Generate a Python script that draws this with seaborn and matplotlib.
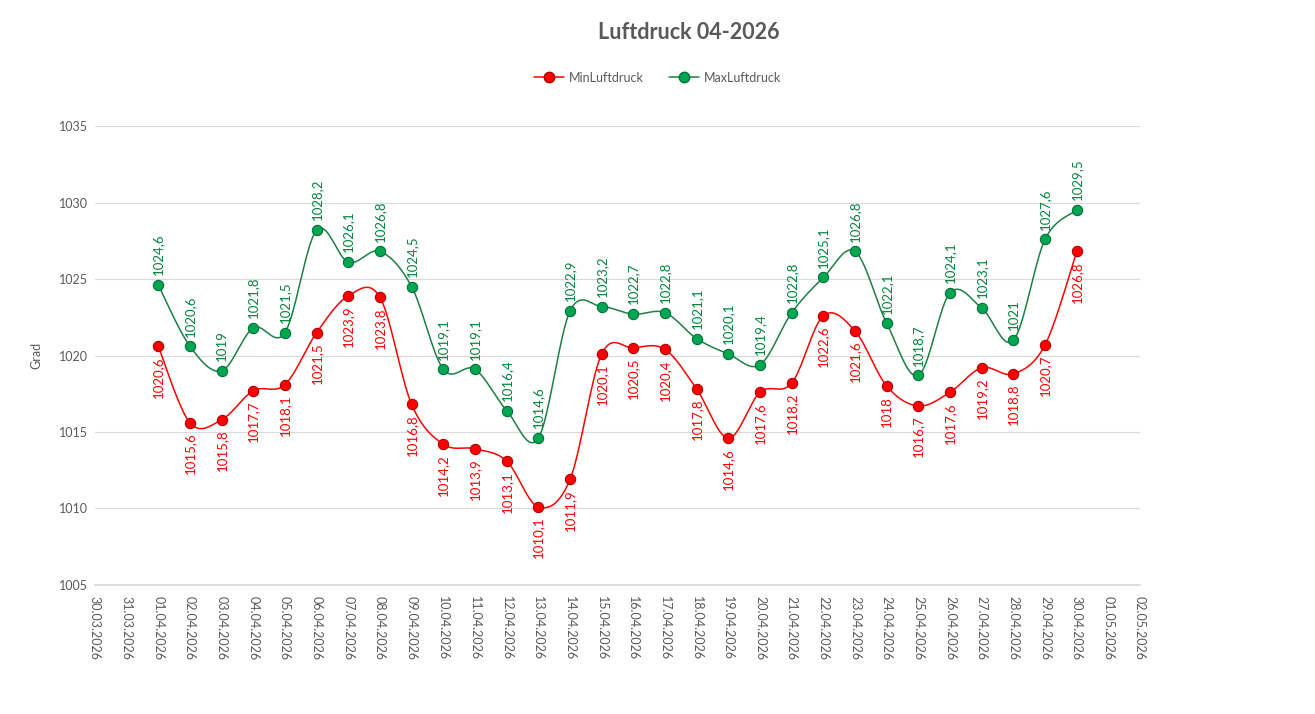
import numpy as np
import pandas as pd
import seaborn as sns
import matplotlib.pyplot as plt
import matplotlib.dates as mdates
from matplotlib.lines import Line2D

days = pd.date_range('2026-04-01', '2026-04-30', freq='D')
min_druck = [1020.6, 1015.6, 1015.8, 1017.7, 1018.1, 1021.5, 1023.9, 1023.8, 1016.8, 1014.2,
             1013.9, 1013.1, 1010.1, 1011.9, 1020.1, 1020.5, 1020.4, 1017.8, 1014.6, 1017.6,
             1018.2, 1022.6, 1021.6, 1018.0, 1016.7, 1017.6, 1019.2, 1018.8, 1020.7, 1026.8]
max_druck = [1024.6, 1020.6, 1019.0, 1021.8, 1021.5, 1028.2, 1026.1, 1026.8, 1024.5, 1019.1,
             1019.1, 1016.4, 1014.6, 1022.9, 1023.2, 1022.7, 1022.8, 1021.1, 1020.1, 1019.4,
             1022.8, 1025.1, 1026.8, 1022.1, 1018.7, 1024.1, 1023.1, 1021.0, 1027.6, 1029.5]
x_ticks = pd.date_range('2026-03-30', '2026-05-02', freq='D')

df = pd.DataFrame({'Datum': days, 'MinLuftdruck': min_druck, 'MaxLuftdruck': max_druck})


def smooth(x, y, n=20):
    # Catmull-Rom wie die geglaettete Linie in Excel
    x = np.asarray(x, float)
    y = np.asarray(y, float)
    px = np.concatenate([[x[0]], x, [x[-1]]])
    py = np.concatenate([[y[0]], y, [y[-1]]])
    t = np.linspace(0, 1, n, endpoint=False)
    xs, ys = [], []
    for i in range(1, len(px) - 2):
        bx = [px[i], px[i] + (px[i + 1] - px[i - 1]) / 6, px[i + 1] - (px[i + 2] - px[i]) / 6, px[i + 1]]
        by = [py[i], py[i] + (py[i + 1] - py[i - 1]) / 6, py[i + 1] - (py[i + 2] - py[i]) / 6, py[i + 1]]
        for b, out in ((bx, xs), (by, ys)):
            out.extend((1 - t) ** 3 * b[0] + 3 * (1 - t) ** 2 * t * b[1] + 3 * (1 - t) * t ** 2 * b[2] + t ** 3 * b[3])
    xs.append(x[-1])
    ys.append(y[-1])
    return np.array(xs), np.array(ys)


sns.set_theme(style='white')
plt.rcParams['font.family'] = ['Lato', 'DejaVu Sans']
grau = '#595959'
rot, rot_rand = '#FF0000', '#B00000'
gruen, gruen_rand, gruen_text = '#00A650', '#00703A', '#00843D'
linie_gruen = '#1E7F45'

fig = plt.figure(figsize=(13.15, 7.14), dpi=100)
ax = fig.add_axes([0.0722, 0.1807, 0.7948, 0.6428])

xnum = mdates.date2num(df['Datum'])
for spalte, lc, fc, ec in (('MinLuftdruck', rot, rot, rot_rand), ('MaxLuftdruck', linie_gruen, gruen, gruen_rand)):
    sx, sy = smooth(xnum, df[spalte])
    sns.lineplot(x=mdates.num2date(sx), y=sy, ax=ax, color=lc, lw=1.1, sort=False, estimator=None, zorder=2)
    sns.scatterplot(x=df['Datum'], y=df[spalte], ax=ax, s=55, color=fc, edgecolor=ec, linewidth=0.8, zorder=3)

for d, lo, hi in zip(df['Datum'], df['MinLuftdruck'], df['MaxLuftdruck']):
    ax.annotate(f'{hi:g}'.replace('.', ','), (d, hi), xytext=(0, 7), textcoords='offset points',
                rotation=90, ha='center', va='bottom', fontsize=9.5, color=gruen_text)
    ax.annotate(f'{lo:g}'.replace('.', ','), (d, lo), xytext=(0, -7), textcoords='offset points',
                rotation=90, ha='center', va='top', fontsize=9.5, color=rot)

ax.set_ylim(1005, 1035)
ax.set_yticks(np.arange(1005, 1036, 5))
ax.set_xlim(x_ticks[0], x_ticks[-1])
ax.set_xticks(x_ticks)
ax.set_xticklabels([d.strftime('%d.%m.%Y') for d in x_ticks], rotation=-90, ha='center', va='top')
ax.tick_params(axis='both', colors=grau, labelsize=9, length=0)
ax.tick_params(axis='x', pad=8)
ax.tick_params(axis='y', pad=5)
ax.grid(axis='y', color='#D9D9D9', lw=0.8)
ax.set_axisbelow(True)
for s in ('top', 'right', 'left'):
    ax.spines[s].set_visible(False)
ax.spines['bottom'].set_color('#D9D9D9')
ax.set_xlabel('')
ax.set_ylabel('Grad', color=grau, fontsize=9, labelpad=12)

fig.text(0.524, 0.955, 'Luftdruck 04-2026', ha='center', va='center', fontsize=15.5,
         fontweight='bold', color=grau)

handles = [Line2D([0], [0], color=rot, lw=1.1, marker='o', markersize=7.5, markerfacecolor=rot, markeredgecolor=rot_rand),
           Line2D([0], [0], color=linie_gruen, lw=1.1, marker='o', markersize=7.5, markerfacecolor=gruen, markeredgecolor=gruen_rand)]
fig.legend(handles, ['MinLuftdruck', 'MaxLuftdruck'], loc='center', bbox_to_anchor=(0.5, 0.891), ncol=2,
           frameon=False, fontsize=9, labelcolor=grau, handlelength=2.4, columnspacing=2.0, handletextpad=0.4)

fig.savefig('out.png', dpi=100)
